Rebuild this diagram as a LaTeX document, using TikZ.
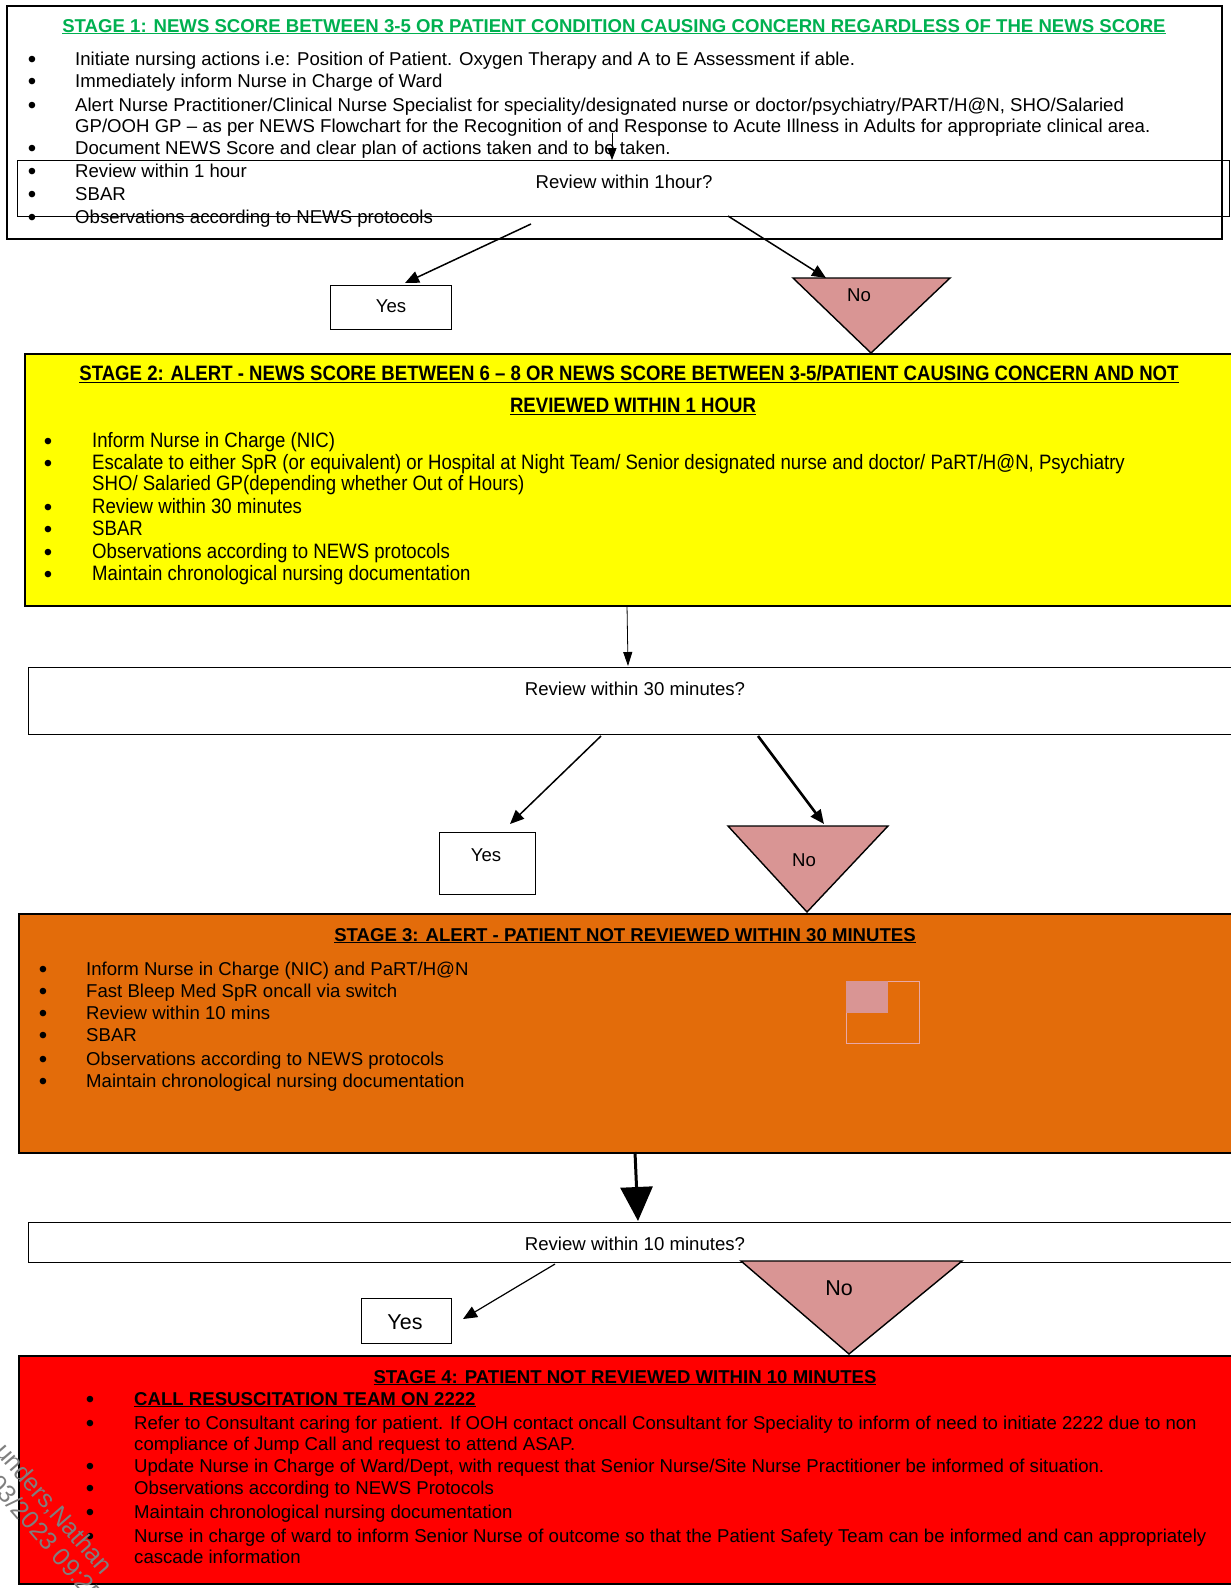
\documentclass[tikz,border=0pt]{standalone}
\usepackage{fontspec}
\usepackage{graphicx}
\setmainfont{Liberation Sans}
\usetikzlibrary{arrows.meta}
\definecolor{newsgreen}{HTML}{00B050}
\definecolor{stageyellow}{HTML}{FFFF00}
\definecolor{stageorange}{HTML}{E36C0A}
\definecolor{stagered}{HTML}{FF0000}
\definecolor{nopink}{HTML}{D99594}
\definecolor{lightpink}{HTML}{E8A8A8}
\definecolor{wmgray}{HTML}{7F7F7F}
\newcommand{\bitem}[5]{%
  \node[bul] (#1-b) at (#2,#4) {\textbullet};
  \node[bodytext] (#1) at (#3,#4) {#5};}
\newcommand{\tallish}[1]{\scalebox{1}[1.12]{#1}}
\begin{document}
\begin{tikzpicture}[x=1pt,y=-1pt,
  bodytext/.style={anchor=base west, inner sep=0pt, font=\fontsize{18.6}{22}\selectfont},
  bul/.style={anchor=base, inner sep=0pt, yshift=-2pt, font=\fontsize{24}{26}\selectfont},
  titletext/.style={anchor=base, inner sep=0pt, font=\fontsize{18.6}{22}\selectfont\bfseries},
  stagebox/.style={draw=black, line width=1.6pt, anchor=north west, inner sep=0pt},
  qbox/.style={draw=black, line width=1.4pt, anchor=north west, inner sep=0pt},
  yesbox/.style={draw=black, line width=1.4pt, anchor=north west, inner sep=0pt, fill=white},
  lbl/.style={inner sep=0pt, font=\fontsize{18.6}{22}\selectfont},
  biglbl/.style={inner sep=0pt, font=\fontsize{21.5}{24}\selectfont},
  arr/.style={line width=1.5pt, -{Triangle[length=14pt,width=12pt]}},
  notri/.style={draw=black, line width=1.4pt, fill=nopink, line join=miter},
  wmark/.style={anchor=base west, inner sep=0pt, text=wmgray, rotate=-49, font=\fontsize{25}{28}\selectfont}
]
\useasboundingbox (0,0) rectangle (1231,1588);

% ---------- Stage 1 ----------
\node[stagebox, minimum width=1215pt, minimum height=233pt] (s1) at (6,5) {};
\node[titletext, text=newsgreen] (s1t) at (614,32) {\underline{STAGE 1: NEWS SCORE BETWEEN 3-5 OR PATIENT CONDITION CAUSING CONCERN REGARDLESS OF THE NEWS SCORE}};
\bitem{s1a}{32}{75}{65}{Initiate nursing actions i.e: Position of Patient. Oxygen Therapy and A to E Assessment if able.}
\bitem{s1b}{32}{75}{87}{Immediately inform Nurse in Charge of Ward}
\bitem{s1c}{32}{75}{111}{Alert Nurse Practitioner/Clinical Nurse Specialist for speciality/designated nurse or doctor/psychiatry/PART/H@N, SHO/Salaried}
\node[bodytext] (s1c2) at (75,132) {GP/OOH GP -- as per NEWS Flowchart for the Recognition of and Response to Acute Illness in Adults for appropriate clinical area.};
\bitem{s1d}{32}{75}{154}{Document NEWS Score and clear plan of actions taken and to be taken.}
\bitem{s1e}{32}{75}{177}{Review within 1 hour}
\bitem{s1f}{32}{75}{200}{SBAR}
\bitem{s1g}{32}{75}{223}{Observations according to NEWS protocols}

\node[qbox, minimum width=1212pt, minimum height=56pt] (q1) at (17,160) {};
\node[lbl] (q1t) at (624,182) {Review within 1hour?};
\coordinate (q1in) at (612,133);
\draw[line width=0.8pt, -{Triangle[length=12pt,width=9pt]}] (q1in) -- (q1.north -| q1in);

% yes / no after stage 1
\node[yesbox, minimum width=121pt, minimum height=44pt] (y1) at (330,285) {};
\node[lbl] (y1t) at (391,306) {Yes};
\coordinate (n1a) at (793,278);
\coordinate (n1b) at (950,278);
\coordinate (n1c) at (871,353);
\path[notri] (n1a) -- (n1b) -- (n1c) -- cycle;
\node[lbl] (n1t) at (859,295) {No};
\coordinate (q1y) at (531,224);
\coordinate (q1n) at (728,216);
\coordinate (y1in) at (405,283);
\coordinate (n1in) at (826,278);
\draw[arr] (q1y) -- (y1in);
\draw[arr] (q1n) -- (n1in);

% ---------- Stage 2 ----------
\node[stagebox, fill=stageyellow, minimum width=1230pt, minimum height=252pt] (s2) at (24,353) {};
\node[titletext] (s2t1) at (629,380) {\tallish{\underline{STAGE 2: ALERT - NEWS SCORE BETWEEN 6 -- 8 OR NEWS SCORE BETWEEN 3-5/PATIENT CAUSING CONCERN AND NOT}}};
\node[titletext] (s2t2) at (633,412) {\tallish{\underline{REVIEWED WITHIN 1 HOUR}}};
\bitem{s2a}{48}{92}{447}{\tallish{Inform Nurse in Charge (NIC)}}
\bitem{s2b}{48}{92}{469}{\tallish{Escalate to either SpR (or equivalent) or Hospital at Night Team/ Senior designated nurse and doctor/ PaRT/H@N, Psychiatry}}
\node[bodytext] (s2b2) at (92,490) {\tallish{SHO/ Salaried GP(depending whether Out of Hours)}};
\bitem{s2c}{48}{92}{513}{\tallish{Review within 30 minutes}}
\bitem{s2d}{48}{92}{535}{\tallish{SBAR}}
\bitem{s2e}{48}{92}{558}{\tallish{Observations according to NEWS protocols}}
\bitem{s2f}{48}{92}{580}{\tallish{Maintain chronological nursing documentation}}

\node[qbox, minimum width=1230pt, minimum height=67pt] (q2) at (28,667) {};
\node[lbl] (q2t) at (635,689) {Review within 30 minutes?};
\coordinate (s2out) at (627,605);
\coordinate (q2in) at (628,666);
\draw[line width=0.8pt, -{Triangle[length=14pt,width=9pt]}] (s2out) -- (q2in);

\node[yesbox, minimum width=96pt, minimum height=62pt] (y2) at (439,832) {};
\node[lbl] (y2t) at (486,855) {Yes};
\coordinate (n2a) at (728,826);
\coordinate (n2b) at (888,826);
\coordinate (n2c) at (807,912);
\path[notri] (n2a) -- (n2b) -- (n2c) -- cycle;
\node[lbl] (n2t) at (804,860) {No};
\coordinate (q2y) at (601,736);
\coordinate (q2n) at (758,736);
\coordinate (y2in) at (510,824);
\coordinate (n2in) at (824,824);
\draw[arr] (q2y) -- (y2in);
\draw[line width=2.6pt, -{Triangle[length=14pt,width=12pt]}] (q2n) -- (n2in);

% ---------- Stage 3 ----------
\node[stagebox, fill=stageorange, minimum width=1230pt, minimum height=239pt] (s3) at (18,913) {};
\node[titletext] (s3t) at (625,941) {\underline{STAGE 3: ALERT - PATIENT NOT REVIEWED WITHIN 30 MINUTES}};
\bitem{s3a}{43}{86}{975}{Inform Nurse in Charge (NIC) and PaRT/H@N}
\bitem{s3b}{43}{86}{997}{Fast Bleep Med SpR oncall via switch}
\bitem{s3c}{43}{86}{1019}{Review within 10 mins}
\bitem{s3d}{43}{86}{1041}{SBAR}
\bitem{s3e}{43}{86}{1065}{Observations according to NEWS protocols}
\bitem{s3f}{43}{86}{1087}{Maintain chronological nursing documentation}
\node[draw=lightpink, line width=1pt, anchor=north west, minimum width=73pt, minimum height=62pt, inner sep=0pt] (sq) at (846,981) {};
\node[fill=nopink, anchor=north west, minimum width=42pt, minimum height=32pt, inner sep=0pt] (sqf) at (846,981) {};

\node[qbox, minimum width=1230pt, minimum height=40pt] (q3) at (28,1222) {};
\node[lbl] (q3t) at (635,1244) {Review within 10 minutes?};
\coordinate (s3out) at (635,1152);
\coordinate (q3in) at (638,1221);
\draw[line width=3pt, -{Triangle[length=34pt,width=32pt]}] (s3out) -- (q3in);

\node[yesbox, minimum width=90pt, minimum height=45pt] (y3) at (361,1298) {};
\node[biglbl] (y3t) at (405,1322) {Yes};
\coordinate (n3a) at (741,1261);
\coordinate (n3b) at (962,1261);
\coordinate (n3c) at (849,1354);
\path[notri] (n3a) -- (n3b) -- (n3c) -- cycle;
\node[biglbl] (n3t) at (839,1288) {No};
\coordinate (q3y) at (555,1264);
\coordinate (y3in) at (463,1319);
\draw[line width=1.2pt, -{Triangle[length=14pt,width=12pt]}] (q3y) -- (y3in);

% ---------- Stage 4 ----------
\node[stagebox, fill=stagered, minimum width=1230pt, minimum height=228pt] (s4) at (18,1355) {};
\node[titletext] (s4t) at (625,1383) {\underline{STAGE 4: PATIENT NOT REVIEWED WITHIN 10 MINUTES}};
\bitem{s4a}{90}{134}{1405}{\textbf{\underline{CALL RESUSCITATION TEAM ON 2222}}}
\bitem{s4b}{90}{134}{1429}{Refer to Consultant caring for patient. If OOH contact oncall Consultant for Speciality to inform of need to initiate 2222 due to non}
\node[bodytext] (s4b2) at (134,1450) {compliance of Jump Call and request to attend ASAP.};
\bitem{s4c}{90}{134}{1472}{Update Nurse in Charge of Ward/Dept, with request that Senior Nurse/Site Nurse Practitioner be informed of situation.}
\bitem{s4d}{90}{134}{1494}{Observations according to NEWS Protocols}
\bitem{s4e}{90}{134}{1518}{Maintain chronological nursing documentation}
\bitem{s4f}{90}{134}{1542}{Nurse in charge of ward to inform Senior Nurse of outcome so that the Patient Safety Team can be informed and can appropriately}
\node[bodytext] (s4f2) at (134,1563) {cascade information};

% watermark
\node[wmark] (wm1) at (-6,1452) {unders,Nathan};
\node[wmark] (wm2) at (-13,1484) {03/2023 09:25};
\end{tikzpicture}
\end{document}
